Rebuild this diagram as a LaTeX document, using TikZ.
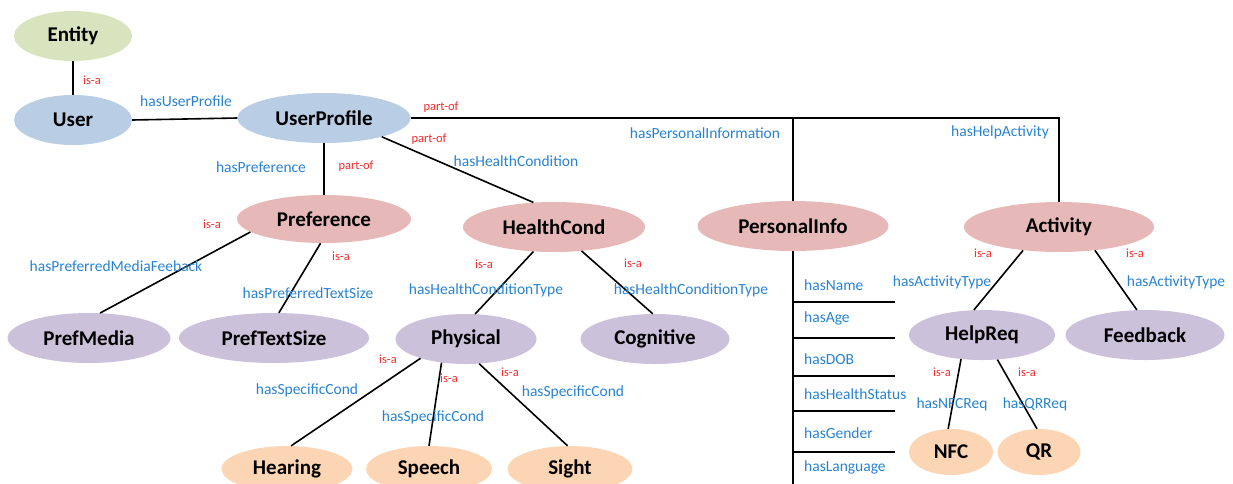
\documentclass[tikz,border=0pt]{standalone}
\usepackage{fontspec}
\setmainfont{Carlito}
\usetikzlibrary{shapes.geometric}

\definecolor{topgreen}{HTML}{D7E4BD}
\definecolor{userblue}{HTML}{B9CDE5}
\definecolor{partpink}{HTML}{E6B9B8}
\definecolor{typepurple}{HTML}{CCC1DA}
\definecolor{leaforange}{HTML}{FCD5B5}
\definecolor{propblue}{RGB}{40,130,210}
\definecolor{relred}{RGB}{250,40,40}

\begin{document}
\begin{tikzpicture}[x=1pt, y=-1pt,
  cls/.style={ellipse, inner sep=0pt, minimum height=50pt, minimum width=#1,
    font=\fontsize{21}{25}\selectfont\bfseries},
  leaf/.style={cls=#1, minimum height=46pt, fill=leaforange},
  prop/.style={text=propblue, inner sep=0pt, font=\fontsize{15.5}{18}\selectfont},
  rel/.style={text=relred, inner sep=0pt, font=\fontsize{12.5}{14}\selectfont},
  link/.style={line width=1.6pt}]
  \useasboundingbox (0,0) rectangle (1233,483);
  \clip (0,0) rectangle (1233,483);

  % Classes
  \node[cls=118pt, fill=topgreen] (Entity) at (73,36) {Entity};
  \node[cls=118pt, fill=userblue] (User) at (73,120) {User};
  \node[cls=173pt, fill=userblue] (UserProfile) at (324,118) {UserProfile};

  \node[cls=174pt, minimum height=48pt, fill=partpink] (Preference) at (324,219) {Preference};
  \node[cls=182pt, fill=partpink] (HealthCond) at (554,227) {HealthCond};
  \node[cls=191pt, fill=partpink] (PersonalInfo) at (793,226) {PersonalInfo};
  \node[cls=190pt, fill=partpink] (Activity) at (1059,227) {Activity};

  \node[cls=163pt, fill=typepurple] (PrefMedia) at (89,338) {PrefMedia};
  \node[cls=190pt, fill=typepurple] (PrefTextSize) at (274,338) {PrefTextSize};
  \node[cls=141pt, fill=typepurple] (Physical) at (466,339) {Physical};
  \node[cls=149pt, fill=typepurple] (Cognitive) at (655,339) {Cognitive};
  \node[cls=146pt, fill=typepurple] (HelpReq) at (982,335) {HelpReq};
  \node[cls=159pt, fill=typepurple] (Feedback) at (1145,335) {Feedback};

  \node[leaf=131pt] (Hearing) at (287,469) {Hearing};
  \node[leaf=126pt] (Speech) at (429,469) {Speech};
  \node[leaf=125pt] (Sight) at (570,469) {Sight};
  \node[leaf=84pt] (NFC) at (951,452) {NFC};
  \node[leaf=83pt] (QR) at (1039,452) {QR};

  % Top level links
  \draw[link] (Entity) -- (User);
  \draw[link] (User.east) -- (UserProfile.west);
  \draw[link] (UserProfile.east) -| (Activity.north);
  \draw[link] (UserProfile.east -| PersonalInfo.north) -- (PersonalInfo.north);
  \draw[link] (UserProfile.south) -- (Preference.north);
  \draw[link] (UserProfile.-18) -- (HealthCond.130);

  % Preference, health and activity links
  \draw[link] (Preference.190) -- (PrefMedia.66);
  \draw[link] (Preference.262) -- (PrefTextSize.79);
  \draw[link] (HealthCond.230) -- (Physical.70);
  \draw[link] (HealthCond.-41) -- (Cognitive.95);
  \draw[link] (Physical.203) -- (Hearing.80);
  \draw[link] (Physical.224) -- (Speech.90);
  \draw[link] (Physical.-62) -- (Sight.96);
  \draw[link] (Activity.213) -- (HelpReq.108);
  \draw[link] (Activity.-33) -- (Feedback.108);
  \draw[link] (HelpReq.229) -- (NFC.97);
  \draw[link] (HelpReq.-58) -- (QR.95);

  % Personal information table
  \coordinate (infoend) at (793,490);
  \draw[link] (PersonalInfo.south) -- (infoend);
  \foreach \y in {302,338,376,411,452}
    \draw[line width=1.4pt] (PersonalInfo.south |- 0,\y) -- (895,\y);
  \foreach \y/\t [count=\i] in {285/hasName,318/hasAge,359/hasDOB,394/hasHealthStatus,433/hasGender,467/hasLanguage}
    \node[prop, anchor=west] (info\i) at (804,\y) {\t};

  % Property labels
  \node[prop] (pUserProfile) at (186,101) {hasUserProfile};
  \node[prop] (pPreference) at (261,167) {hasPreference};
  \node[prop] (pHealth) at (516,161) {hasHealthCondition};
  \node[prop] (pPersonal) at (705,133) {hasPersonalInformation};
  \node[prop] (pHelp) at (1000,132) {hasHelpActivity};
  \node[prop] (pMedia) at (116,266) {hasPreferredMediaFeeback};
  \node[prop] (pTextSize) at (308,293) {hasPreferredTextSize};
  \node[prop] (pPhysical) at (486,290) {hasHealthConditionType};
  \node[prop] (pCognitive) at (691,290) {hasHealthConditionType};
  \node[prop] (pHearing) at (307,390) {hasSpecificCond};
  \node[prop] (pSpeech) at (433,417) {hasSpecificCond};
  \node[prop] (pSight) at (573,392) {hasSpecificCond};
  \node[prop] (pHelpReq) at (942,282) {hasActivityType};
  \node[prop] (pFeedback) at (1176,282) {hasActivityType};
  \node[prop] (pNFC) at (952,404) {hasNFCReq};
  \node[prop] (pQR) at (1035,404) {hasQRReq};

  % Relation labels
  \node[rel] (rUser) at (92,80) {is-a};
  \node[rel] (rActivity) at (441,107) {part-of};
  \node[rel] (rHealth) at (429,139) {part-of};
  \node[rel] (rPreference) at (356,166) {part-of};
  \node[rel] (rMedia) at (212,224) {is-a};
  \node[rel] (rTextSize) at (341,256) {is-a};
  \node[rel] (rPhysical) at (484,264) {is-a};
  \node[rel] (rCognitive) at (633,263) {is-a};
  \node[rel] (rHearing) at (388,359) {is-a};
  \node[rel] (rSpeech) at (449,378) {is-a};
  \node[rel] (rSight) at (510,372) {is-a};
  \node[rel] (rHelpReq) at (983,253) {is-a};
  \node[rel] (rFeedback) at (1135,253) {is-a};
  \node[rel] (rNFC) at (942,372) {is-a};
  \node[rel] (rQR) at (1027,372) {is-a};
\end{tikzpicture}
\end{document}
